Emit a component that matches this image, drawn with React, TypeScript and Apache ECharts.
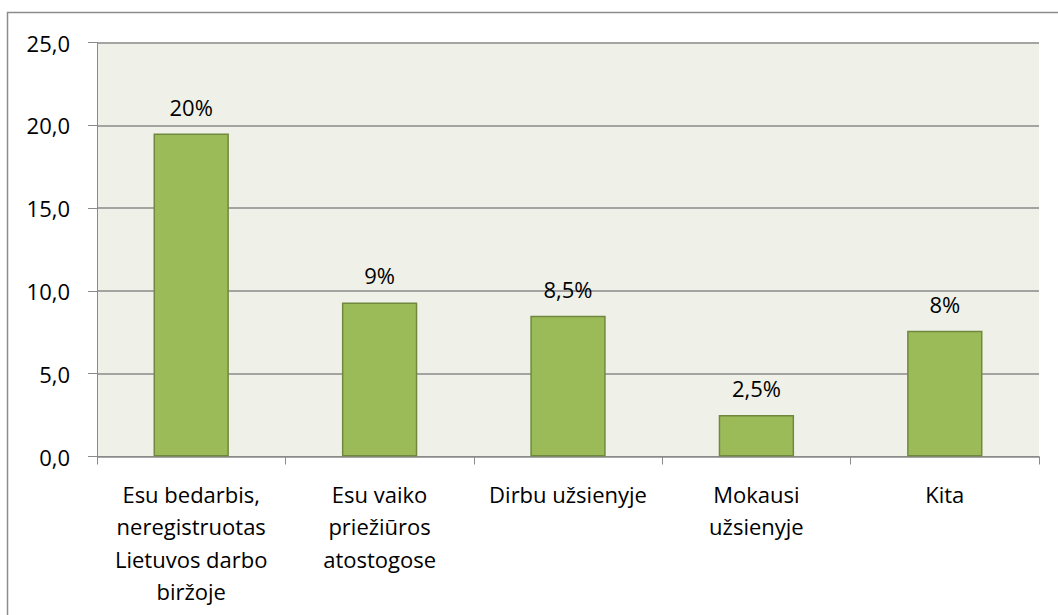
import React, { useEffect, useRef } from "react";
import * as echarts from "echarts";

const categories = [
  "Esu bedarbis,\nneregistruotas\nLietuvos darbo\nbiržoje",
  "Esu vaiko\npriežiūros\natostogose",
  "Dirbu užsienyje",
  "Mokausi\nužsienyje",
  "Kita",
];
const values = [19.5, 9.3, 8.5, 2.5, 7.6];
const valueLabels = ["20%", "9%", "8,5%", "2,5%", "8%"];
const yTicks = { min: 0, max: 25, interval: 5 };

export default function App() {
  const ref = useRef<HTMLDivElement>(null);
  useEffect(() => {
    if (!ref.current) return;
    const chart = echarts.init(ref.current, undefined, { renderer: "svg" });
    const font = "'Open Sans', sans-serif";
    chart.setOption({
      animation: false,
      backgroundColor: "#ffffff",
      textStyle: { fontFamily: font },
      graphic: [
        {
          type: "rect",
          shape: { x: 7.5, y: 12.5, width: 1060, height: 620 },
          style: { fill: "none", stroke: "#8c8c8c", lineWidth: 1.5 },
          silent: true,
          z: 100,
        },
      ],
      grid: {
        left: 97,
        top: 42.5,
        width: 942,
        height: 414,
        show: true,
        backgroundColor: "#EFF1E9",
        borderWidth: 0,
      },
      xAxis: {
        type: "category",
        data: categories,
        axisLine: { show: true, lineStyle: { color: "#8a8a8a", width: 1 } },
        axisTick: { show: true, length: 8, lineStyle: { color: "#8a8a8a" } },
        axisLabel: {
          color: "#000",
          fontSize: 22,
          lineHeight: 32.5,
          margin: 21,
          fontFamily: font,
          interval: 0,
        },
      },
      yAxis: {
        type: "value",
        min: yTicks.min,
        max: yTicks.max,
        interval: yTicks.interval,
        axisLine: { show: true, lineStyle: { color: "#8a8a8a", width: 1 } },
        axisTick: { show: true, length: 9, lineStyle: { color: "#8a8a8a" } },
        splitLine: { show: true, lineStyle: { color: "#8a8a8a", width: 1.5 } },
        axisLabel: {
          color: "#000",
          fontSize: 22,
          margin: 27,
          fontFamily: font,
          formatter: (v: number) => v.toFixed(1).replace(".", ","),
        },
      },
      series: [
        {
          type: "bar",
          data: values,
          barWidth: "40%",
          itemStyle: { color: "#9BBB59", borderColor: "#71893F", borderWidth: 1.5 },
          label: {
            show: true,
            position: "top",
            distance: 16,
            color: "#000",
            fontSize: 22,
            fontFamily: font,
            formatter: (p: any) => valueLabels[p.dataIndex],
          },
        },
      ],
    });
    return () => chart.dispose();
  }, []);
  return (
    <div
      ref={ref}
      style={{ position: "absolute", left: 0, top: 0, width: 1058, height: 615 }}
    />
  );
}
